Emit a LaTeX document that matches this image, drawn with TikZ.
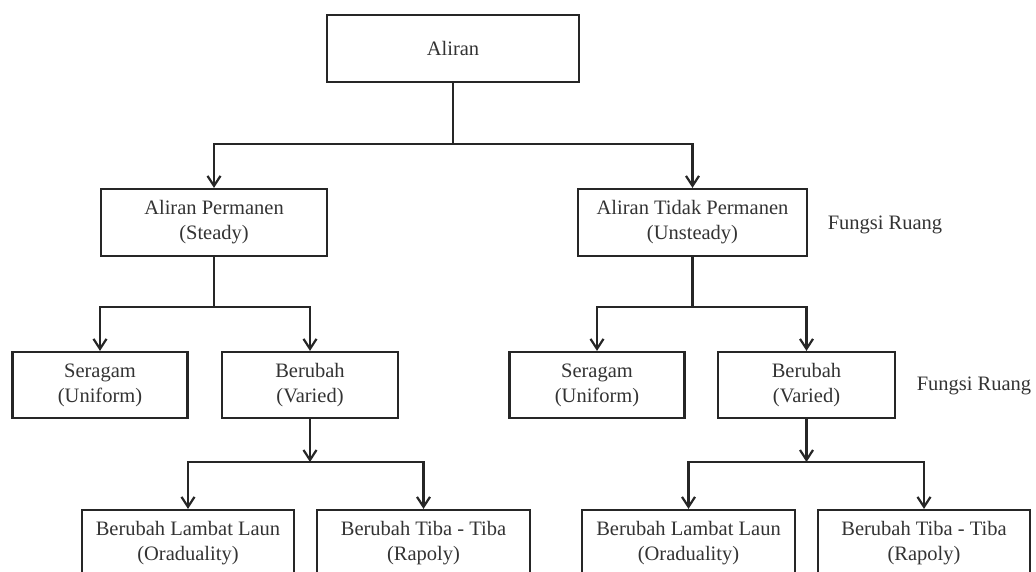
\documentclass[tikz,border=0pt]{standalone}
\usepackage{fontspec}
\setmainfont{Liberation Serif}
\usetikzlibrary{arrows.meta}

\begin{document}
\begin{tikzpicture}[x=1pt,y=-1pt,line width=2.2pt]
        \tikzstyle{every node}=[font=\fontsize{20.5}{25}\selectfont, text=black!80, align=center, inner sep=0pt]
        \tikzstyle{box}=[draw=black!85, minimum height=67pt]
        \tikzstyle{arr}=[draw=black!85, -{Straight Barb[length=10pt,width=13pt,line width=2.2pt]}]
        \useasboundingbox (0,0) rectangle (1036,571);
        \clip (0,0) rectangle (1036,571);
        % level 0 and 1
        \node[box, minimum width=252pt] (aliran) at (453,48.5) {Aliran};
        \node[box, minimum width=226pt] (permanen) at (214,222.5) {Aliran Permanen\\(Steady)};
        \node[box, minimum width=229pt] (tidak) at (692.5,222.5) {Aliran Tidak Permanen\\(Unsteady)};
        \node (ruang1) at (885,225) {Fungsi Ruang};
        % level 2
        \node[box, minimum width=175pt, minimum height=66pt] (seragamL) at (100,385) {Seragam\\(Uniform)};
        \node[box, minimum width=176pt, minimum height=66pt] (berubahL) at (310,385) {Berubah\\(Varied)};
        \node[box, minimum width=175pt, minimum height=66pt] (seragamR) at (597,385) {Seragam\\(Uniform)};
        \node[box, minimum width=177pt, minimum height=66pt] (berubahR) at (806.5,385) {Berubah\\(Varied)};
        \node (ruang2) at (974,386) {Fungsi Ruang};
        % level 3
        \node[box, minimum width=212pt] (lambatL) at (188,543.5) {Berubah Lambat Laun\\(Oraduality)};
        \node[box, minimum width=213pt] (tibaL) at (423.5,543.5) {Berubah Tiba - Tiba\\(Rapoly)};
        \node[box, minimum width=213pt] (lambatR) at (688.5,543.5) {Berubah Lambat Laun\\(Oraduality)};
        \node[box, minimum width=212pt] (tibaR) at (924,543.5) {Berubah Tiba - Tiba\\(Rapoly)};
        % connectors
        \coordinate (busA) at (453,144);
        \coordinate (busB) at (214,307);
        \coordinate (busC) at (692.5,307);
        \coordinate (busD) at (310,462);
        \coordinate (busE) at (806.5,462);
        \draw[draw=black!85] (aliran) -- (busA);
        \draw[arr] (busA) -| (permanen);
        \draw[arr] (busA) -| (tidak);
        \draw[draw=black!85] (permanen) -- (busB);
        \draw[arr] (busB) -| (seragamL);
        \draw[arr] (busB) -| (berubahL);
        \draw[draw=black!85] (tidak) -- (busC);
        \draw[arr] (busC) -| (seragamR);
        \draw[arr] (busC) -| (berubahR);
        \draw[arr] (berubahL) -- (busD);
        \draw[arr] (busD) -| (lambatL);
        \draw[arr] (busD) -| (tibaL);
        \draw[arr] (berubahR) -- (busE);
        \draw[arr] (busE) -| (lambatR);
        \draw[arr] (busE) -| (tibaR);
    \end{tikzpicture}
\end{document}
